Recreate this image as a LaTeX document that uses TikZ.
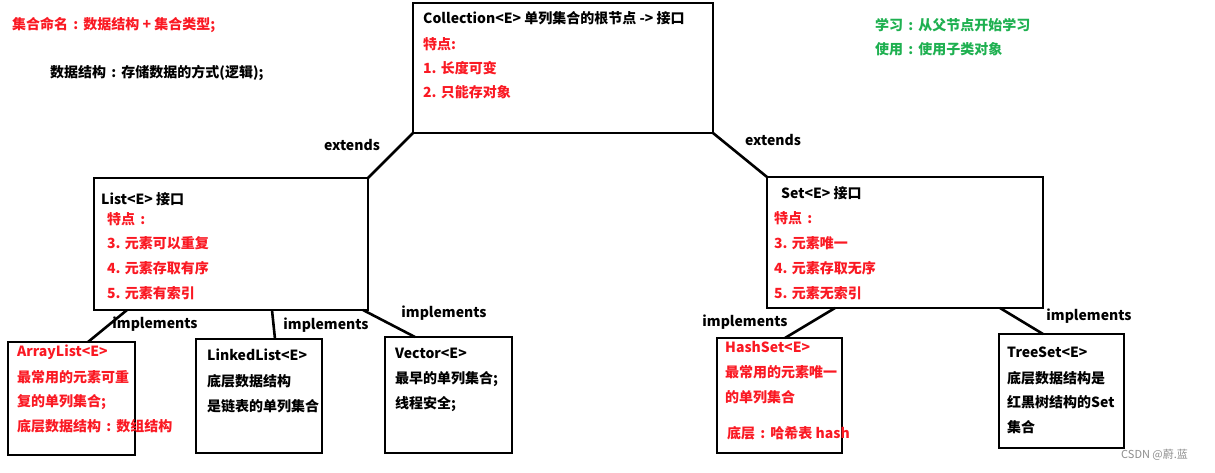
\documentclass[tikz,border=0pt]{standalone}
\usepackage{fontspec}
\setmainfont{Noto Sans CJK SC}
\definecolor{myred}{RGB}{250,25,35}
\definecolor{mygreen}{RGB}{30,176,80}
\newcommand{\cco}{\hspace{0.37em}:\hspace{0.37em}}
\begin{document}
\begin{tikzpicture}[x=1pt,y=-1pt,
  box/.style={draw,line width=2.6pt,rectangle,inner sep=0pt,outer sep=0pt},
  lnk/.style={line width=2.6pt},
  t/.style={anchor=west,inner sep=0pt,font=\fontsize{14}{16}\selectfont\bfseries},
  tr/.style={t,text=myred},
  tk/.style={t,text=black},
  tg/.style={t,text=mygreen},
  lbl/.style={inner sep=0pt,font=\fontsize{14}{16}\selectfont\bfseries}]
\useasboundingbox (0,0) rectangle (1215,472);
% header notes
\node[tr] (n1) at (12,25) {集合命名\cco 数据结构 + 集合类型;};
\node[tk] (n2) at (50,73) {数据结构\cco 存储数据的方式(逻辑);};
\node[tg] (g1) at (875,25) {学习\cco 从父节点开始学习};
\node[tg] (g2) at (875,49) {使用\cco 使用子类对象};
% boxes
\node[box,minimum width=300pt,minimum height=130pt] (coll) at (563,68) {};
\node[box,minimum width=274pt,minimum height=132pt] (list) at (231,244) {};
\node[box,minimum width=276pt,minimum height=131pt] (set) at (905,242.5) {};
\node[box,minimum width=127pt,minimum height=113pt] (arr) at (71.5,398.5) {};
\node[box,minimum width=126pt,minimum height=114pt] (linked) at (259,396) {};
\node[box,minimum width=127pt,minimum height=116pt] (vec) at (448.5,395) {};
\node[box,minimum width=125pt,minimum height=115pt] (hash) at (779.5,395.5) {};
\node[box,minimum width=125pt,minimum height=114pt] (tree) at (1061.5,391) {};
% collection text
\node[tk] (c0) at (423,18) {Collection<E> 单列集合的根节点 -> 接口};
\node[tr] (c1) at (423,44) {特点:};
\node[tr] (c2) at (423,68) {1. 长度可变};
\node[tr] (c3) at (423,92) {2. 只能存对象};
% list text
\node[tk] (l0) at (101,199) {List<E> 接口};
\node[tr] (l1) at (107,219) {特点\cco};
\node[tr] (l2) at (107,243) {3. 元素可以重复};
\node[tr] (l3) at (107,268) {4. 元素存取有序};
\node[tr] (l4) at (107,293) {5. 元素有索引};
% set text
\node[tk] (s0) at (781,193) {Set<E> 接口};
\node[tr] (s1) at (774,218) {特点\cco};
\node[tr] (s2) at (774,243) {3. 元素唯一};
\node[tr] (s3) at (774,268) {4. 元素存取无序};
\node[tr] (s4) at (774,293) {5. 元素无索引};
% arraylist
\node[tr] (a0) at (17,352) {ArrayList<E>};
\node[tr] (a1) at (17,377) {最常用的元素可重};
\node[tr] (a2) at (17,402) {复的单列集合;};
\node[tr] (a3) at (17,426) {底层数据结构\cco 数组结构};
% linkedlist
\node[tk] (k0) at (207,355) {LinkedList<E>};
\node[tk] (k1) at (207,381) {底层数据结构};
\node[tk] (k2) at (207,406) {是链表的单列集合};
% vector
\node[tk] (v0) at (395,353) {Vector<E>};
\node[tk] (v1) at (395,379) {最早的单列集合;};
\node[tk] (v2) at (395,404) {线程安全;};
% hashset
\node[tr] (h0) at (725,347) {HashSet<E>};
\node[tr] (h1) at (725,372) {最常用的元素唯一};
\node[tr] (h2) at (725,397) {的单列集合};
\node[tr] (h3) at (727,433) {底层\cco 哈希表 hash};
% treeset
\node[tk] (r0) at (1007,352) {TreeSet<E>};
\node[tk] (r1) at (1007,378) {底层数据结构是};
\node[tk] (r2) at (1007,402) {红黑树结构的Set};
\node[tk] (r3) at (1007,427) {集合};
% connectors
\draw[lnk] (coll.south west) -- (list.north east);
\draw[lnk] (coll.south east) -- (set.north west);
\draw[lnk] ([xshift=33pt]list.south west) -- ([xshift=80pt]arr.north west);
\draw[lnk] ([xshift=178pt]list.south west) -- ([xshift=79pt]linked.north west);
\draw[lnk] ([xshift=269pt]list.south west) -- ([xshift=30pt]vec.north west);
\draw[lnk] ([xshift=68pt]set.south west) -- ([xshift=68pt]hash.north west);
\draw[lnk] ([xshift=233pt]set.south west) -- ([xshift=44pt]tree.north west);
% labels
\node[lbl] (e1) at (352,145) {extends};
\node[lbl] (e2) at (773,140) {extends};
\node[lbl] (i1) at (155,324) {implements};
\node[lbl] (i2) at (326,325) {implements};
\node[lbl] (i3) at (444,313) {implements};
\node[lbl] (i4) at (745,322) {implements};
\node[lbl] (i5) at (1089,316) {implements};
% watermark
\node[inner sep=0pt,anchor=west,text=black!45,font=\fontsize{11}{12}\selectfont] (wm) at (1121,455) {CSDN @蔚.蓝};
\end{tikzpicture}
\end{document}
